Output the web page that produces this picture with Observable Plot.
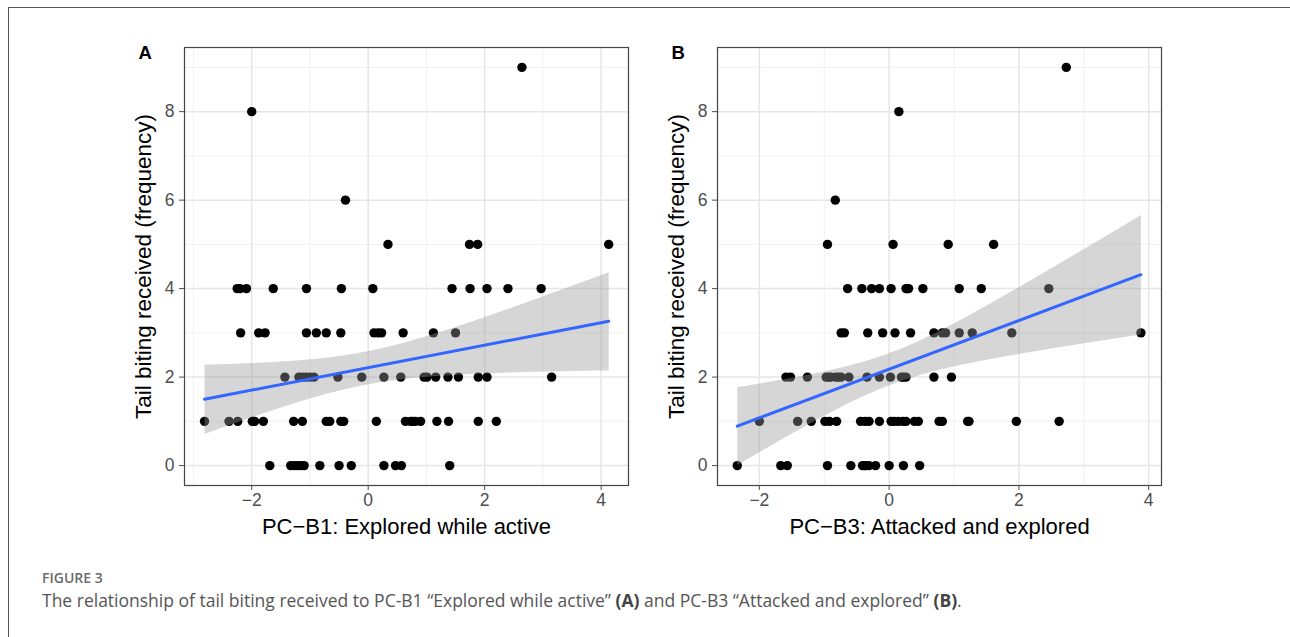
<!DOCTYPE html>
<html>
<head>
<meta charset="utf-8">
<script src="https://cdn.jsdelivr.net/npm/d3@7"></script>
<script src="https://cdn.jsdelivr.net/npm/@observablehq/plot@0.6"></script>
<style>
  html, body { margin: 0; padding: 0; background: #fff; }
  #wrap { position: relative; width: 1290px; height: 637px; overflow: hidden; background: #fff; }
  #rule { position: absolute; left: 8px; top: 7px; right: 0; bottom: 0; border-left: 1px solid #555; border-top: 1px solid #555; }
  .panel { position: absolute; top: 30px; }
  #figlabel { position: absolute; left: 42px; top: 571px; font-family: "Open Sans", sans-serif; font-size: 14px; line-height: 14px; font-weight: 600; color: #6b6b6b; white-space: nowrap; }
  #caption { position: absolute; left: 42px; top: 590px; font-family: "Open Sans", sans-serif; font-size: 17.5px; line-height: 20px; color: #555; white-space: nowrap; }
  #caption b { color: #444; font-weight: 700; }
</style>
</head>
<body>
<div id="wrap">
  <div id="rule"></div>
  <div id="panelA" class="panel" style="left:120px"></div>
  <div id="panelB" class="panel" style="left:653px"></div>
  <div id="figlabel">FIGURE 3</div>
  <div id="caption">The relationship of tail biting received to PC-B1 “Explored while active” <b>(A)</b> and PC-B3 “Attacked and explored” <b>(B)</b>.</div>
</div>
<script>
// ---- Panel A: PC-B1 (Explored while active) vs tail biting received ----
const aX = [
  -1.69, -1.33, -1.27, -1.21, -1.15, -1.10, -0.83, -0.50, -0.29, 0.27, 0.47, 0.57, 1.40,
  -2.81, -2.39, -2.24, -1.99, -1.97, -1.95, -1.80, -1.28, -1.13, -0.72, -0.66, -0.47, -0.42, 0.14, 0.64, 0.73, 0.77, 0.81, 0.90, 1.18, 1.38, 1.89, 2.20,
  -1.43, -1.19, -1.13, -1.07, -1.00, -0.93, -0.52, -0.11, 0.27, 0.56, 0.96, 1.01, 1.16, 1.37, 1.55, 1.89, 2.04, 3.15,
  -2.19, -1.88, -1.77, -1.06, -0.89, -0.72, -0.47, 0.10, 0.17, 0.23, 0.60, 1.12, 1.50,
  -2.25, -2.20, -2.09, -1.63, -1.06, -0.46, 0.08, 1.44, 1.75, 2.04, 2.40, 2.97,
  0.34, 1.74, 1.88, 4.13,
  -0.39,
  -2.00,
  2.64
];
const aY = [
  0,0,0,0,0,0,0,0,0,0,0,0,0,
  1,1,1,1,1,1,1,1,1,1,1,1,1,1,1,1,1,1,1,1,1,1,1,
  2,2,2,2,2,2,2,2,2,2,2,2,2,2,2,2,2,2,
  3,3,3,3,3,3,3,3,3,3,3,3,3,
  4,4,4,4,4,4,4,4,4,4,4,4,
  5,5,5,5,
  6,
  8,
  9
];

// ---- Panel B: PC-B3 (Attacked and explored) vs tail biting received ----
const bX = [
  -2.34, -1.67, -1.57, -0.95, -0.59, -0.41, -0.38, -0.36, -0.31, -0.21, 0.00, 0.22, 0.47,
  -2.00, -1.41, -1.20, -0.99, -0.92, -0.81, -0.44, -0.37, -0.31, -0.15, 0.03, 0.08, 0.14, 0.21, 0.26, 0.39, 0.45, 0.77, 0.82, 1.21, 1.23, 1.96, 2.62,
  -1.59, -1.52, -1.26, -0.97, -0.93, -0.90, -0.82, -0.78, -0.74, -0.62, -0.34, -0.15, 0.02, 0.19, 0.22, 0.26, 0.69, 0.96,
  -0.74, -0.69, -0.33, -0.10, 0.09, 0.33, 0.69, 0.82, 0.87, 1.08, 1.28, 1.89, 3.88,
  -0.64, -0.42, -0.27, -0.15, 0.03, 0.26, 0.28, 0.30, 0.52, 1.08, 1.42, 2.46,
  -0.95, 0.06, 0.91, 1.61,
  -0.83,
  0.15,
  2.73
];
const bY = [
  0,0,0,0,0,0,0,0,0,0,0,0,0,
  1,1,1,1,1,1,1,1,1,1,1,1,1,1,1,1,1,1,1,1,1,1,1,
  2,2,2,2,2,2,2,2,2,2,2,2,2,2,2,2,2,2,
  3,3,3,3,3,3,3,3,3,3,3,3,3,
  4,4,4,4,4,4,4,4,4,4,4,4,
  5,5,5,5,
  6,
  8,
  9
];

const yMajor = [0, 2, 4, 6, 8];
const yMinor = [1, 3, 5, 7, 9];
const aXMajor = [-2, 0, 2, 4];
const aXMinor = [-3, -1, 1, 3];
const bXMajor = [-2, 0, 2, 4];
const bXMinor = [-1, 1, 3];

const yTitle = "Tail biting received (frequency)";
const aTitle = "PC\u2212B1: Explored while active";
const bTitle = "PC\u2212B3: Attacked and explored";

const fmt = (d) => (d < 0 ? "\u2212" + Math.abs(d) : String(d));

function panel(xs, ys, xDomain, xMajor, xMinor, xTitle, tag) {
  const data = xs.map((x, i) => ({x, y: ys[i]}));
  return Plot.plot({
    width: 520,
    height: 510,
    marginLeft: 64,
    marginRight: 12,
    marginTop: 17,
    marginBottom: 55,
    style: {fontFamily: "'Liberation Sans', Arial, sans-serif", fontSize: "17.5px", background: "white", overflow: "visible"},
    x: {domain: xDomain},
    y: {domain: [-0.45, 9.45]},
    marks: [
      Plot.gridX({ticks: xMinor, stroke: "#efefef", strokeOpacity: 1, strokeWidth: 0.9}),
      Plot.gridY({ticks: yMinor, stroke: "#efefef", strokeOpacity: 1, strokeWidth: 0.9}),
      Plot.gridX({ticks: xMajor, stroke: "#e6e6e6", strokeOpacity: 1, strokeWidth: 1.5}),
      Plot.gridY({ticks: yMajor, stroke: "#e6e6e6", strokeOpacity: 1, strokeWidth: 1.5}),
      Plot.dot(data, {x: "x", y: "y", r: 4.7, fill: "black", stroke: "none"}),
      Plot.linearRegressionY(data, {x: "x", y: "y", stroke: "#3366FF", strokeWidth: 3, fill: "#999999", fillOpacity: 0.4}),
      Plot.frame({stroke: "#444", strokeWidth: 1.2}),
      Plot.axisX({ticks: xMajor, tickFormat: fmt, tickSize: 5, tickPadding: 3, color: "#4d4d4d", label: null}),
      Plot.axisY({ticks: yMajor, tickFormat: fmt, tickSize: 5, tickPadding: 5, color: "#4d4d4d", label: null}),
      Plot.text([yTitle], {frameAnchor: "left", dx: -41, rotate: -90, textAnchor: "middle", lineAnchor: "middle", fontSize: 22.5, fill: "black"}),
      Plot.text([xTitle], {frameAnchor: "bottom", dy: 41.5, textAnchor: "middle", lineAnchor: "middle", fontSize: 22, fill: "black"}),
      Plot.text([tag], {frameAnchor: "top-left", dx: -46, dy: 5.5, textAnchor: "start", lineAnchor: "middle", fontSize: 18.5, fontWeight: "bold", fill: "black"})
    ]
  });
}

document.getElementById("panelA").appendChild(panel(aX, aY, [-3.154, 4.47], aXMajor, aXMinor, aTitle, "A"));
document.getElementById("panelB").appendChild(panel(bX, bY, [-2.645, 4.197], bXMajor, bXMinor, bTitle, "B"));
</script>
</body>
</html>
